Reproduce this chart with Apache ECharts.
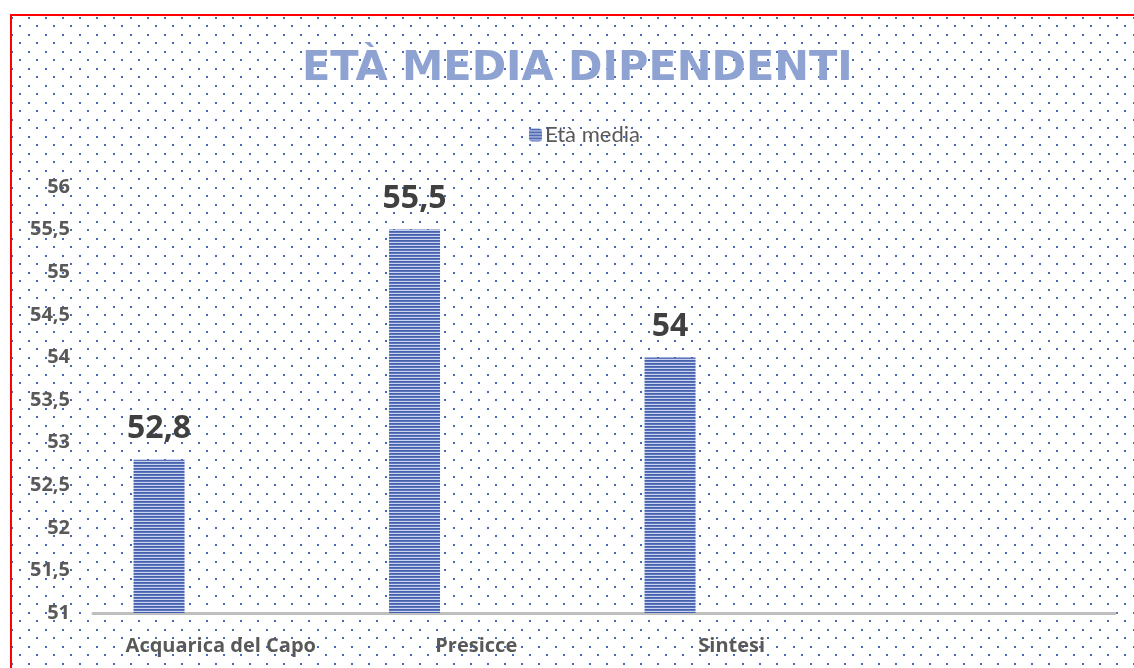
<!DOCTYPE html>
<html>
<head>
<meta charset="utf-8">
<script src="https://cdn.jsdelivr.net/npm/echarts@6/dist/echarts.min.js"></script>
<style>
html,body{margin:0;padding:0;background:#fff;}
#chart{width:1134px;height:668px;}
</style>
</head>
<body>
<div id="chart"></div>
<script>
var titleText = 'ETÀ MEDIA DIPENDENTI';
var seriesName = 'Età media';
var categories = ['Acquarica del Capo', 'Presicce', 'Sintesi', ''];
var values = [52.8, 55.5, 54, null];
var emptySeries = [null, null, null, null];
var yMin = 51, yMax = 56, yStep = 0.5;

function fmt(v){ return String(v).replace('.', ','); }

// dotted background pattern
var dotCanvas = document.createElement('canvas');
dotCanvas.width = 17; dotCanvas.height = 17;
(function(){
  var c = dotCanvas.getContext('2d');
  c.fillStyle = '#ffffff'; c.fillRect(0,0,17,17);
  c.fillStyle = '#4868bc';
  c.fillRect(11,0,2,2);
  c.fillRect(2,8,2,2);
})();

// striped bar pattern
var stripeCanvas = document.createElement('canvas');
stripeCanvas.width = 4; stripeCanvas.height = 3;
(function(){
  var c = stripeCanvas.getContext('2d');
  c.fillStyle = '#4661ad'; c.fillRect(0,0,4,1);
  c.fillStyle = '#5b74ba'; c.fillRect(0,1,4,1);
  c.fillStyle = '#c9d2ee'; c.fillRect(0,2,4,1);
})();

var labelFont = 'Open Sans';

var chart = echarts.init(document.getElementById('chart'));
chart.setOption({
  backgroundColor: '#ffffff',
  animation: false,
  graphic: [
    { type: 'rect', shape: { x: 12, y: 16, width: 1122, height: 652 }, style: { fill: { image: dotCanvas, repeat: 'repeat' } }, z: -10, silent: true },
    { type: 'line', shape: { x1: 10, y1: 15, x2: 1134, y2: 15 }, style: { stroke: '#ff0000', lineWidth: 2 }, z: -5 },
    { type: 'line', shape: { x1: 11, y1: 14, x2: 11, y2: 668 }, style: { stroke: '#ff0000', lineWidth: 2 }, z: -5 }
  ],
  title: {
    text: titleText,
    left: 297,
    top: 43,
    textStyle: { fontFamily: 'DejaVu Sans', fontWeight: 'bold', fontSize: 41.5, color: '#8fa3d3' }
  },
  legend: {
    data: [seriesName],
    left: 524,
    top: 119,
    itemWidth: 13,
    itemHeight: 13,
    itemGap: 10,
    textStyle: { fontFamily: 'Lato', fontSize: 22, color: '#595959', padding: [0,0,0,-2] }
  },
  grid: { left: 93, right: 19, top: 187, bottom: 55, containLabel: false },
  xAxis: {
    type: 'category',
    data: categories,
    axisLine: { lineStyle: { color: '#bfbfbf', width: 3 } },
    axisTick: { show: false },
    axisLabel: { fontFamily: labelFont, fontWeight: 'bold', fontSize: 20, color: '#595959', margin: 23, interval: 0 }
  },
  yAxis: {
    type: 'value',
    min: yMin, max: yMax, interval: yStep,
    axisLine: { show: false },
    axisTick: { show: false },
    splitLine: { show: false },
    axisLabel: { fontFamily: labelFont, fontWeight: 'bold', fontSize: 20, color: '#595959', margin: 23, formatter: fmt }
  },
  series: [
    {
      name: seriesName,
      type: 'bar',
      data: values,
      barWidth: 51,
      barGap: '142%',
      itemStyle: { color: { image: stripeCanvas, repeat: 'repeat' } },
      label: {
        show: true, position: 'top', distance: 15,
        fontFamily: labelFont, fontWeight: 'bold', fontSize: 32, color: '#404040',
        formatter: function(p){ return fmt(p.value); }
      }
    },
    {
      name: 'vuoto',
      type: 'bar',
      data: emptySeries,
      barWidth: 51,
      barGap: '142%'
    }
  ]
});
</script>
</body>
</html>
